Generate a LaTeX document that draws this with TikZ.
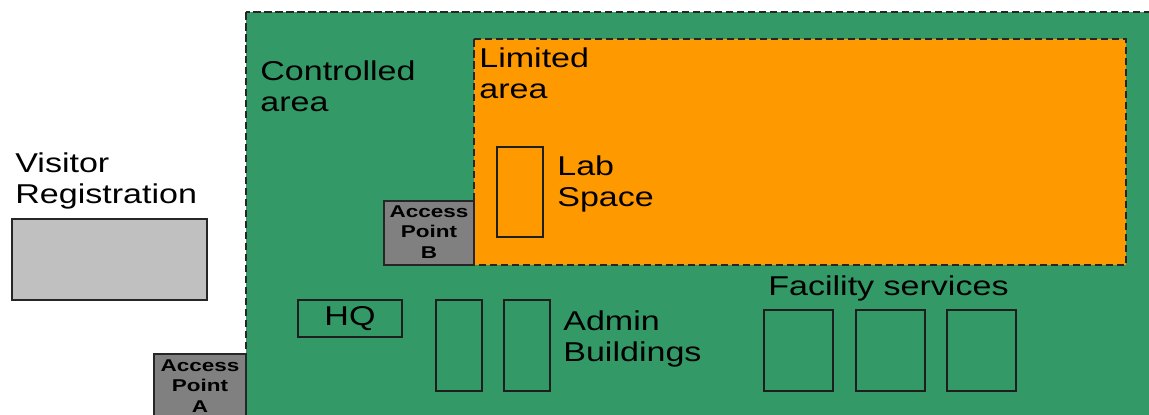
\documentclass[tikz,border=0pt]{standalone}
\usepackage{fontspec}
\setmainfont{Liberation Sans}[FakeStretch=1.25]
\newfontfamily\apfont{Liberation Sans Bold}[FakeStretch=1.32]
\definecolor{ctrlgreen}{HTML}{339966}
\definecolor{limorange}{HTML}{FF9900}
\definecolor{apgray}{HTML}{808080}
\definecolor{regbox}{HTML}{C0C0C0}
\definecolor{edgedark}{HTML}{262626}

\begin{document}
\begin{tikzpicture}[x=0.02cm,y=-0.02cm,
  zone/.style={draw=edgedark,line width=0.85pt,dash pattern=on 0.15cm off 0.07cm},
  bldg/.style={draw=edgedark!80!black,line width=0.7pt},
  apbox/.style={draw=edgedark,line width=0.7pt,fill=apgray},
  lbl/.style={anchor=north west,inner sep=0pt,align=left,font=\fontsize{15.5}{18}\selectfont},
  aplbl/.style={inner sep=0pt,align=center,font=\apfont\fontsize{9.7}{11.5}\selectfont}]
\useasboundingbox (0,0) rectangle (1149,414);
% zones
\path[zone,fill=ctrlgreen] (246,12) rectangle (1200,440);
\path[zone,fill=limorange] (474,39) rectangle (1126,265);
% visitor registration
\path[bldg,draw=edgedark,fill=regbox] (12,219) rectangle (207,300);
\node[lbl] (visitor) at (15,152) {Visitor\\Registration};
% access points
\path[apbox] (384,201) rectangle (474,265);
\node[aplbl] (apB) at (429,232) {Access\\Point\\B};
\path[apbox] (154,354) rectangle (246,440);
\node[aplbl] (apA) at (200,386) {Access\\Point\\A};
% area labels
\node[lbl] (ctrl) at (260,60) {Controlled\\area};
\node[lbl] (lim) at (479,47) {Limited\\area};
% lab space
\path[bldg] (497,147) rectangle (543,237);
\node[lbl] (lab) at (557,155) {Lab\\Space};
% HQ
\path[bldg] (298,300) rectangle (402,337);
\node[inner sep=0pt,font=\fontsize{15.5}{18}\selectfont] (hq) at (350,318.5) {HQ};
% admin buildings
\path[bldg] (436,300) rectangle (482,391);
\path[bldg] (504,300) rectangle (550,391);
\node[lbl] (admin) at (563,310) {Admin\\Buildings};
% facility services
\node[lbl] (fac) at (768,275) {Facility services};
\foreach \x in {764,856,947}
  \path[bldg] (\x,310) rectangle ++(69,81);
\end{tikzpicture}
\end{document}
